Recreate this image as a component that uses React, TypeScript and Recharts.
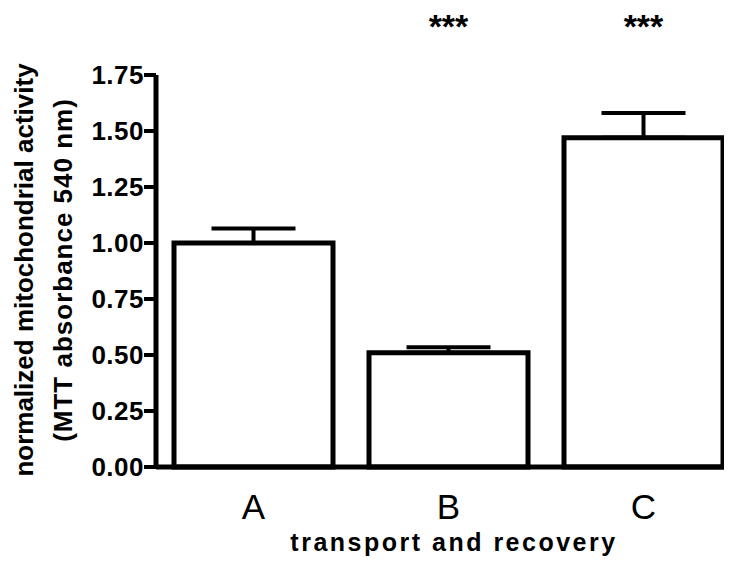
import { BarChart, Bar, XAxis, YAxis, ErrorBar, LabelList } from "recharts";

const FONT = "'Liberation Sans', Arial, Helvetica, sans-serif";

// groups on the x axis
const groups = ["A", "B", "C"];
// normalized MTT absorbance (bar heights)
const activity = [1.0, 0.51, 1.47];
// upper error (SEM), drawn upward only
const sem = [0.065, 0.025, 0.11];
// significance marks above each group
const significance = ["", "***", "***"];
const yTicks = [0, 0.25, 0.5, 0.75, 1.0, 1.25, 1.5, 1.75];

const data = groups.map((g, i) => ({
  group: g,
  activity: activity[i],
  err: [0, sem[i]],
  sig: significance[i],
}));

const YTick = (props: any) => {
  const { x, y, payload } = props;
  return (
    <text
      x={x}
      y={y}
      dy={9}
      textAnchor="end"
      fontFamily={FONT}
      fontSize={26}
      fontWeight="bold"
      fill="#000"
      style={{ letterSpacing: "0.5px" }}
    >
      {Number(payload.value).toFixed(2)}
    </text>
  );
};

const XTick = (props: any) => {
  const { x, y, payload } = props;
  return (
    <text
      x={x}
      y={y}
      dy={52}
      textAnchor="middle"
      fontFamily={FONT}
      fontSize={35}
      fill="#000"
    >
      {payload.value}
    </text>
  );
};

const YTitle = () => (
  <g fontFamily={FONT} fontWeight="bold" fontSize={26} fill="#000">
    <text transform="translate(25,262) rotate(-90)" textAnchor="middle">
      normalized mitochondrial activity
    </text>
    <text
      transform="translate(64,262) rotate(-90)"
      textAnchor="middle"
      style={{ letterSpacing: "1px" }}
    >
      (MTT absorbance 540 nm)
    </text>
  </g>
);

const XTitle = () => (
  <text
    x={446}
    y={543}
    textAnchor="middle"
    fontFamily={FONT}
    fontWeight="bold"
    fontSize={25}
    fill="#000"
    style={{ letterSpacing: "2.5px" }}
  >
    transport and recovery
  </text>
);

const SigMark = (props: any) => {
  const { x, width, value } = props;
  if (!value) return null;
  return (
    <text
      x={Number(x) + Number(width) / 2}
      y={30}
      textAnchor="middle"
      fontFamily={FONT}
      fontWeight="bold"
      fontSize={34}
      fill="#000"
    >
      {value}
    </text>
  );
};

export default function App() {
  return (
    <div style={{ width: 724, height: 553, overflow: "hidden", background: "#fff" }}>
      <BarChart
        width={733}
        height={553}
        data={data}
        margin={{ top: 67, right: 0, bottom: 0, left: 0 }}
      >
        <XAxis
          dataKey="group"
          height={94}
          tick={<XTick />}
          tickLine={false}
          tickSize={0}
          tickMargin={0}
          axisLine={{ stroke: "#000", strokeWidth: 5 }}
          label={{ content: () => <XTitle /> }}
        />
        <YAxis
          width={148}
          domain={[0, 1.75]}
          ticks={yTicks}
          interval={0}
          tick={<YTick />}
          tickSize={12}
          tickMargin={0}
          tickLine={{ stroke: "#000", strokeWidth: 4 }}
          axisLine={{ stroke: "#000", strokeWidth: 5 }}
          label={{ content: () => <YTitle /> }}
        />
        <Bar
          dataKey="activity"
          barSize={159}
          fill="#fff"
          stroke="#000"
          strokeWidth={5}
          isAnimationActive={false}
        >
          <ErrorBar dataKey="err" width={42} stroke="#000" strokeWidth={4} />
          <LabelList dataKey="sig" content={<SigMark />} />
        </Bar>
      </BarChart>
    </div>
  );
}
